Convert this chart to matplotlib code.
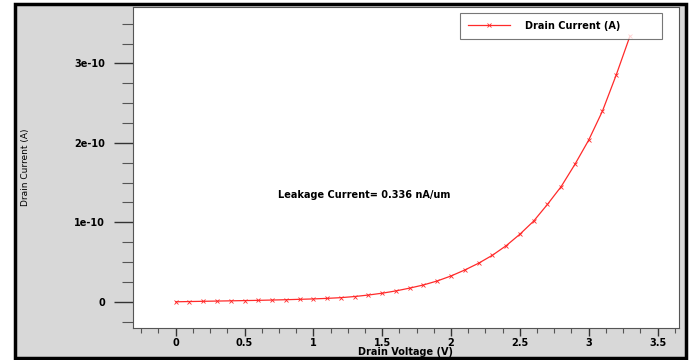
import matplotlib.pyplot as plt
from matplotlib.patches import Rectangle
from matplotlib.ticker import FixedLocator, FixedFormatter, MultipleLocator

# Drain voltage (V) and drain current (1e-10 A)
drain_voltage = [0.0, 0.1, 0.2, 0.3, 0.4, 0.5, 0.6, 0.7, 0.8, 0.9,
                 1.0, 1.1, 1.2, 1.3, 1.4, 1.5, 1.6, 1.7, 1.8, 1.9,
                 2.0, 2.1, 2.2, 2.3, 2.4, 2.5, 2.6, 2.7, 2.8, 2.9,
                 3.0, 3.1, 3.2, 3.3]
drain_current_e10 = [0.0, 0.003, 0.006, 0.009, 0.012, 0.015, 0.018, 0.022, 0.026, 0.031,
                     0.036, 0.043, 0.052, 0.066, 0.085, 0.108, 0.137, 0.172, 0.212, 0.262,
                     0.325, 0.400, 0.485, 0.585, 0.705, 0.850, 1.015, 1.225, 1.450, 1.730,
                     2.035, 2.400, 2.855, 3.345]
drain_current = [v * 1e-10 for v in drain_current_e10]

x_ticks = [0, 0.5, 1, 1.5, 2, 2.5, 3, 3.5]
x_tick_labels = ["0", "0.5", "1", "1.5", "2", "2.5", "3", "3.5"]
y_ticks = [0, 1e-10, 2e-10, 3e-10]
y_tick_labels = ["0", "1e-10", "2e-10", "3e-10"]

series_label = "Drain Current (A)"
note_text = "Leakage Current= 0.336 nA/um"

fig = plt.figure(figsize=(6.91, 3.6), dpi=100)
fig.patch.set_facecolor("white")

# grey panel with black frame behind everything
frame = Rectangle((15 / 691, 2 / 360), 671 / 691, 354 / 360, transform=fig.transFigure,
                  facecolor="#d8d8d8", edgecolor="black", linewidth=2.5, zorder=-10)
fig.patches.append(frame)

ax = fig.add_axes([133 / 691, 32 / 360, 546 / 691, 321 / 360])
ax.set_facecolor("white")

ax.plot(drain_voltage, drain_current, color="#ff2a2a", linewidth=0.9,
        marker="x", markersize=3.5, markeredgewidth=0.6, label=series_label)

ax.set_xlim(-0.31, 3.656)
ax.set_ylim(-0.33e-10, 3.71e-10)

ax.xaxis.set_major_locator(FixedLocator(x_ticks))
ax.xaxis.set_major_formatter(FixedFormatter(x_tick_labels))
ax.xaxis.set_minor_locator(MultipleLocator(0.125))
ax.yaxis.set_major_locator(FixedLocator(y_ticks))
ax.yaxis.set_major_formatter(FixedFormatter(y_tick_labels))
ax.yaxis.set_minor_locator(MultipleLocator(0.25e-10))

ax.tick_params(axis="y", which="major", direction="out", length=14, width=1.0,
               color="#333333", pad=6, labelsize=7)
ax.tick_params(axis="y", which="minor", direction="out", length=8, width=0.8, color="#555555")
ax.tick_params(axis="x", which="major", direction="out", length=5.5, width=1.0,
               color="#333333", pad=2, labelsize=7)
ax.tick_params(axis="x", which="minor", direction="out", length=3.5, width=0.8, color="#555555")
for lbl in ax.get_xticklabels() + ax.get_yticklabels():
    lbl.set_fontweight("bold")
    lbl.set_family("DejaVu Sans")

for spine in ax.spines.values():
    spine.set_color("#555555")
    spine.set_linewidth(0.8)

ax.set_xlabel("Drain Voltage (V)", fontsize=7, fontweight="bold", labelpad=-1)
ax.set_ylabel("Drain Current (A)", fontsize=6.5, family=["Liberation Sans Narrow", "DejaVu Sans"],
              labelpad=32)

ax.text(0.74, 1.35e-10, note_text, fontsize=7, fontweight="bold", ha="left", va="center")

leg = ax.legend(loc="upper right", bbox_to_anchor=(0.969, 0.981), borderaxespad=0,
                fancybox=False, frameon=True, handlelength=4.3, handletextpad=1.6,
                borderpad=0.8, prop={"size": 7, "weight": "bold"})
leg.get_frame().set_edgecolor("#555555")
leg.get_frame().set_linewidth(0.8)
# make the legend box wide like the reference
for t in leg.get_texts():
    t.set_text(series_label + "          ")

fig.savefig("out.png", dpi=100)
